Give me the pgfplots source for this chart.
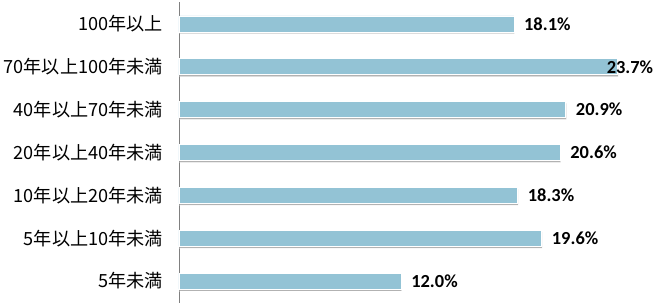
\documentclass[border=0pt]{standalone}
\usepackage{pgfplots}
\usepackage{pgfplotstable}
\pgfplotsset{compat=1.18}
\usepackage{fontspec}
\setmainfont{Carlito}
\newfontfamily\cjk{Noto Sans CJK JP}
\usetikzlibrary{shadows}
\definecolor{barblue}{RGB}{147,195,213}
\pgfplotstableread{
y x shift
0 12.0 10
1 19.6 10
2 18.3 10
3 20.6 10
4 20.9 10
5 23.7 -11
6 18.1 10
}\datatable
\begin{document}
\begin{tikzpicture}
\useasboundingbox (-179bp,-2.5bp) rectangle (481bp,302.5bp);
\begin{axis}[
  at={(0,0)}, anchor=south west,
  scale only axis, width=481bp, height=300bp,
  xmin=0, xmax=26, ymin=-0.5, ymax=6.5,
  axis x line=none, axis y line*=left,
  axis line style={draw=gray, line width=0.8bp},
  ytick={0,...,6},
  yticklabels={5年未満,5年以上10年未満,10年以上20年未満,20年以上40年未満,40年以上70年未満,70年以上100年未満,100年以上},
  yticklabel style={font=\cjk\fontsize{18.2}{20}\selectfont, inner sep=0pt, xshift=-16bp},
  major tick length=0pt,
  xbar, bar width=16bp,
  clip=false,
  point meta=x,
  visualization depends on={\thisrow{shift}\as\myshift},
  nodes near coords={\pgfmathprintnumber[fixed,fixed zerofill,precision=1,assume math mode=true]{\pgfplotspointmeta}\%},
  nodes near coords style={font=\fontsize{18.5}{20}\selectfont\bfseries, inner sep=0pt, anchor=west, xshift=\myshift bp, text=black},
]
\addplot[fill=barblue, draw=white, line width=0.6bp,
  drop shadow={shadow xshift=0.6bp, shadow yshift=-1.8bp, fill=black, opacity=0.3}]
  table[x=x, y=y] {\datatable};
\end{axis}
\end{tikzpicture}
\end{document}
